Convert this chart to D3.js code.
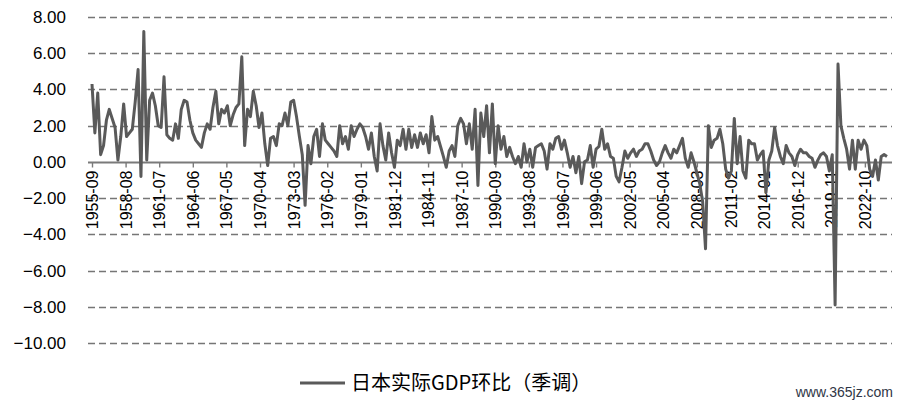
<!DOCTYPE html>
<html>
<head>
<meta charset="utf-8">
<script src="https://cdn.jsdelivr.net/npm/d3@7"></script>
<style>
  html, body { margin: 0; padding: 0; background: #ffffff; }
  svg { display: block; }
</style>
</head>
<body>
<svg id="chart" width="900" height="405"></svg>
<script>
// ---- data ----
const seriesName = "日本实际GDP环比（季调）";
const firstPeriod = "1955-09"; // quarterly observations from here
const gdpQoQ = [
  4.3, 1.6, 3.8, 0.4, 0.9, 2.3, 2.9, 2.4, 1.9, 0.1,
  1.4, 3.2, 1.4, 1.6, 1.8, 3.3, 5.1, -0.8, 7.2, 0.1,
  3.4, 3.8, 3.1, 2.0, 1.9, 4.7, 1.5, 1.3, 1.2, 2.1,
  1.3, 2.9, 3.4, 3.3, 2.3, 1.6, 1.2, 1.0, 0.8, 1.6,
  2.1, 1.8, 3.0, 3.9, 2.1, 2.9, 2.7, 3.1, 2.0, 2.6,
  3.0, 3.2, 5.8, 0.9, 2.9, 2.5, 3.9, 3.1, 1.9, 2.7,
  1.0, -0.2, 1.3, 1.4, 0.9, 2.1, 2.0, 2.7, 2.0, 3.3,
  3.4, 2.5, 1.4, 0.4, -2.4, 0.9, -0.1, 1.4, 1.8, 0.3,
  2.1, 1.2, 1.0, 0.8, 0.6, 0.3, 2.0, 1.0, 1.4, 0.7,
  2.0, 1.4, 1.8, 2.1, 1.9, 1.4, 0.7, 1.6, 0.3, -0.5,
  2.1, 0.9, 0.1, 1.6, 0.5, -0.3, 1.2, 0.9, 1.8, 0.7,
  1.8, 0.8, 1.5, 0.8, 1.6, 1.0, 1.5, 0.5, 2.5, 1.2,
  1.4, 0.85, 0.3, -0.3, 0.6, 0.9, 0.3, 2.0, 2.4, 2.1,
  1.0, 2.1, 0.7, 2.9, -1.3, 2.7, 1.4, 3.1, 0.5, 3.2,
  -0.1, 2.0, 0.7, 1.4, 0.3, 0.8, 0.3, -0.1, 0.3, -0.3,
  1.0, 0.0, 0.7, -0.3, 0.8, 0.9, 1.0, 0.6, -0.4, 1.0,
  0.7, 1.3, 1.4, 0.7, 1.2, 0.5, -0.3, 0.3, -0.6, 0.3,
  -1.2, 0.0, 0.1, 0.9, -0.3, 0.7, 0.85, 1.8, 0.7, 1.0,
  0.3, 0.2, -0.8, -1.1, -0.3, 0.6, 0.2, 0.5, 0.7, 0.3,
  0.6, 0.7, 1.0, 1.0, 0.6, 0.1, -0.2, 0.0, 0.5, 0.9,
  0.5, 0.2, 0.7, 0.5, 0.9, 1.3, 0.2, -0.3, 0.5, 0.0,
  -0.6, -1.2, -2.2, -4.8, 2.0, 0.8, 1.2, 1.3, 1.8, 1.0,
  -0.4, -0.9, -0.5, 2.4, -0.1, 1.4, -0.5, -0.9, 1.2, 1.0,
  1.0, 0.1, 0.4, 0.6, -1.7, 0.1, 0.6, 1.9, 0.9, 0.3,
  -0.1, 0.9, 0.5, 0.3, -0.2, 0.4, 0.7, 0.5, 0.5, 0.3,
  0.2, -0.3, 0.1, 0.4, 0.5, 0.3, -0.5, 0.4, -7.9, 5.4,
  2.0, 1.3, 0.7, -0.4, 1.2, -0.4, 1.2, 0.7, 1.2, 0.9,
  -0.4, -0.8, 0.1, -1.0, 0.3, 0.4, 0.3
];
const xTickLabels = [
  "1955-09","1958-08","1961-07","1964-06","1967-05","1970-04","1973-03","1976-02",
  "1979-01","1981-12","1984-11","1987-10","1990-09","1993-08","1996-07","1999-06",
  "2002-05","2005-04","2008-03","2011-02","2014-01","2016-12","2019-11","2022-10"
];
const yTickValues = [8, 6, 4, 2, 0, -2, -4, -6, -8, -10];
const watermark = "www.365jz.com";

// ---- build ----
const parseMonth = d3.timeParse("%Y-%m");
const start = parseMonth(firstPeriod);
const points = gdpQoQ.map((v, i) => ({ date: d3.timeMonth.offset(start, 3 * i), value: v }));
const tickDates = xTickLabels.map(parseMonth);

const svg = d3.select("#chart");
const gridLeft = 88, gridRight = 892;

const x = d3.scaleTime()
  .domain([start, points[points.length - 1].date])
  .range([92, 887]);
const y = d3.scaleLinear().domain([-10, 8]).range([343, 17]);

const latin = "'Liberation Sans', Arial, sans-serif";

// gridlines
svg.append("g").selectAll("line")
  .data(yTickValues.filter(v => v !== 0))
  .join("line")
  .attr("x1", gridLeft).attr("x2", gridRight)
  .attr("y1", d => Math.round(y(d)) + 0.5).attr("y2", d => Math.round(y(d)) + 0.5)
  .attr("stroke", "#767676").attr("stroke-width", 1.4)
  .attr("stroke-dasharray", "7,4");

// y labels
svg.append("g").selectAll("text")
  .data(yTickValues)
  .join("text")
  .attr("x", 66).attr("y", d => y(d))
  .attr("dy", "0.35em")
  .attr("text-anchor", "end")
  .attr("font-family", latin).attr("font-size", 17).attr("fill", "#000")
  .text(d => d3.format(".2f")(d));

// x axis at zero
const xAxis = d3.axisBottom(x)
  .tickValues(tickDates)
  .tickFormat((d, i) => xTickLabels[i])
  .tickSize(5).tickSizeOuter(0);
const gx = svg.append("g")
  .attr("transform", `translate(0,${Math.round(y(0)) + 0.5})`)
  .call(xAxis);
gx.select(".domain").attr("d", `M${gridLeft},0H${gridRight}`)
  .attr("stroke", "#7a7a7a").attr("stroke-width", 1.8);
gx.selectAll(".tick line").attr("stroke", "#7a7a7a").attr("stroke-width", 1.4);
gx.selectAll(".tick text")
  .attr("font-family", latin).attr("font-size", 16).attr("fill", "#000")
  .attr("text-anchor", "end")
  .attr("transform", "rotate(-90)")
  .attr("x", -8).attr("y", 0).attr("dy", "0.35em");

// line
const line = d3.line().x(d => x(d.date)).y(d => y(d.value));
svg.append("path")
  .datum(points)
  .attr("d", line)
  .attr("fill", "none")
  .attr("stroke", "#5a5a5a")
  .attr("stroke-width", 3)
  .attr("stroke-linejoin", "round");

// legend
const lg = svg.append("g").attr("transform", "translate(0,383)");
lg.append("line").attr("x1", 300).attr("x2", 345).attr("y1", 0).attr("y2", 0)
  .attr("stroke", "#5a5a5a").attr("stroke-width", 3);
lg.append("text").attr("x", 351).attr("y", 0).attr("dy", "0.36em")
  .attr("font-family", "'Noto Sans CJK SC', sans-serif").attr("font-size", 20)
  .attr("fill", "#000").text(seriesName);

// watermark
svg.append("text").attr("x", 893).attr("y", 397).attr("text-anchor", "end")
  .attr("font-family", latin).attr("font-size", 14).attr("fill", "#2f3646")
  .text(watermark);
</script>
</body>
</html>
